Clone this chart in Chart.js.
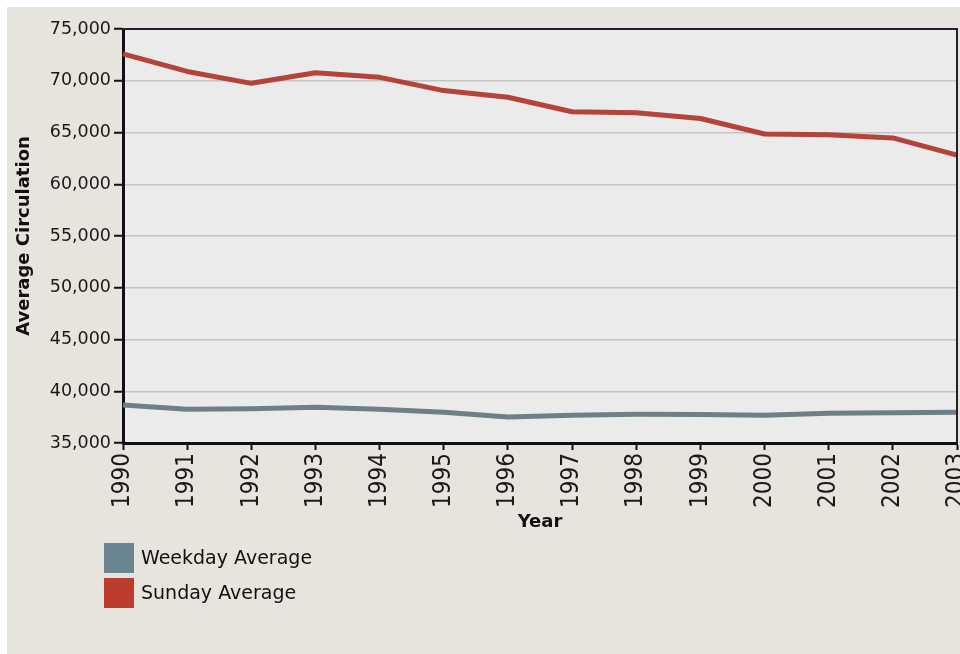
<!DOCTYPE html>
<html>
<head>
<meta charset="utf-8">
<script src="https://cdn.jsdelivr.net/npm/chart.js@4/dist/chart.umd.min.js"></script>
<style>
  html, body { margin: 0; padding: 0; background: #ffffff; }
  #wrap {
    position: absolute;
    left: 7px;
    top: 7px;
    width: 953px;
    height: 647px;
    background: #e7e3dd;
  }
</style>
</head>
<body>
<div id="wrap"><canvas id="chart" width="953" height="647"></canvas></div>
<script>
const years = ["1990", "1991", "1992", "1993", "1994", "1995", "1996",
  "1997", "1998", "1999", "2000", "2001", "2002", "2003"];
const weekdayAvg = [38670, 38260, 38320, 38450, 38260, 37970, 37520,
  37680, 37770, 37750, 37690, 37870, 37930, 37970];
const sundayAvg = [72600, 70900, 69750, 70780, 70330, 69050, 68400,
  67010, 66900, 66350, 64850, 64780, 64480, 62820];
const yTicks = [35000, 40000, 45000, 50000, 55000, 60000, 65000, 70000, 75000];

const legendColors = ["#6b8692", "#bb3b2f"];

// grey plot background plus the thin frame on top and right
const plotFrame = {
  id: "plotFrame",
  beforeDraw(chart) {
    const { ctx, chartArea: a } = chart;
    ctx.save();
    ctx.fillStyle = "#ebebeb";
    ctx.fillRect(a.left, a.top, a.right - a.left, a.bottom - a.top);
    ctx.restore();
  },
  afterDraw(chart) {
    const { ctx, chartArea: a } = chart;
    ctx.save();
    ctx.strokeStyle = "#222";
    ctx.lineWidth = 2;
    ctx.beginPath();
    ctx.moveTo(a.left, a.top);
    ctx.lineTo(a.right, a.top);
    ctx.lineTo(a.right, a.bottom);
    ctx.stroke();
    ctx.restore();
  },
};

// stacked legend under the x axis
const stackedLegend = {
  id: "stackedLegend",
  afterDraw(chart) {
    const { ctx, chartArea } = chart;
    const x0 = chartArea.left - 19;
    const y0 = chart.scales.x.bottom;
    ctx.save();
    ctx.font = "19px 'DejaVu Sans', sans-serif";
    ctx.textBaseline = "middle";
    chart.data.datasets.forEach((ds, i) => {
      const y = y0 + i * 35;
      ctx.fillStyle = legendColors[i];
      ctx.fillRect(x0, y, 30, 30);
      ctx.fillStyle = "#111";
      ctx.fillText(ds.label, x0 + 37, y + 16);
    });
    ctx.restore();
  },
};

const ctx = document.getElementById("chart").getContext("2d");
new Chart(ctx, {
  type: "line",
  data: {
    labels: years,
    datasets: [
      {
        label: "Weekday Average",
        data: weekdayAvg,
        borderColor: "#6d8088",
        backgroundColor: "#6d8088",
        borderWidth: 5,
        pointRadius: 0,
        borderJoinStyle: "round",
        tension: 0,
      },
      {
        label: "Sunday Average",
        data: sundayAvg,
        borderColor: "#b4433a",
        backgroundColor: "#b4433a",
        borderWidth: 5,
        pointRadius: 0,
        borderJoinStyle: "round",
        tension: 0,
      },
    ],
  },
  options: {
    responsive: false,
    animation: false,
    layout: { padding: { top: 22, right: 3, bottom: 111, left: 0 } },
    plugins: {
      legend: { display: false },
      tooltip: { enabled: false },
    },
    scales: {
      x: {
        grid: {
          drawOnChartArea: false,
          tickColor: "#111",
          tickLength: 7,
          tickWidth: 2,
        },
        border: { color: "#111", width: 3 },
        ticks: {
          autoSkip: false,
          minRotation: 90,
          maxRotation: 90,
          padding: 3,
          color: "#1a1a1a",
          font: { family: "'Liberation Sans Narrow', 'DejaVu Sans Condensed', sans-serif", size: 24 },
        },
        title: {
          display: true,
          text: "Year",
          color: "#111",
          font: { family: "'DejaVu Sans', sans-serif", size: 18, weight: "bold" },
          padding: { top: 0, bottom: 10 },
        },
        afterFit(scale) {
          scale.height = 100;
          scale.paddingLeft = 0;
          scale.paddingRight = 0;
        },
      },
      y: {
        min: 35000,
        max: 75000,
        afterBuildTicks(scale) {
          scale.ticks = yTicks.map((v) => ({ value: v }));
        },
        grid: {
          color: "#c4c4c4",
          lineWidth: 1.5,
          tickColor: "#111",
          tickLength: 9,
          tickWidth: 2,
        },
        border: { color: "#111", width: 3 },
        ticks: {
          padding: 3,
          color: "#1a1a1a",
          font: { family: "'DejaVu Sans', sans-serif", size: 17.5 },
          callback: (v) => Number(v).toLocaleString("en-US"),
        },
        title: {
          display: true,
          text: "Average Circulation",
          color: "#111",
          font: { family: "'DejaVu Sans', sans-serif", size: 18, weight: "bold" },
          padding: { top: 7, bottom: 0 },
        },
        afterFit(scale) {
          scale.width = 116;
          scale.paddingTop = 0;
          scale.paddingBottom = 0;
        },
      },
    },
  },
  plugins: [plotFrame, stackedLegend],
});
</script>
</body>
</html>
